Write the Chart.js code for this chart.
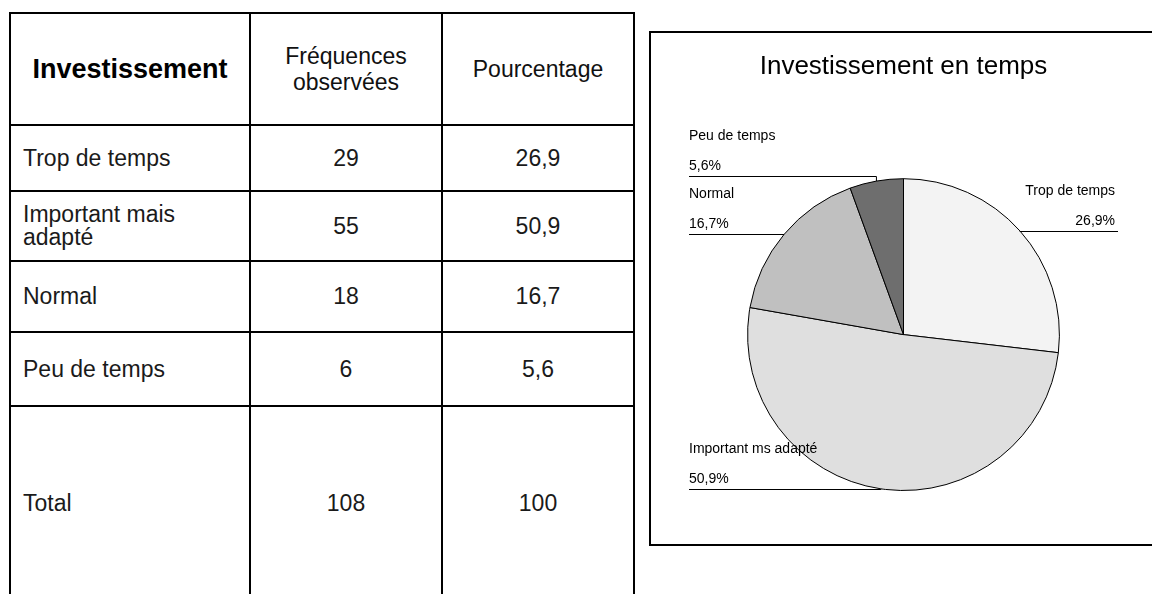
<!DOCTYPE html>
<html>
<head>
<meta charset="utf-8">
<script src="https://cdn.jsdelivr.net/npm/chart.js@4.4.1/dist/chart.umd.min.js"></script>
<style>
html,body{margin:0;padding:0;background:#fff;width:1152px;height:594px;overflow:hidden;}
body{position:relative;font-family:"Liberation Sans",Arial,sans-serif;color:#1a1a1a;}
#tbl{position:absolute;left:9px;top:12px;border-collapse:collapse;table-layout:fixed;}
#tbl td,#tbl th{border:2px solid #000;padding:0 12px;font-size:23px;line-height:23px;font-weight:normal;vertical-align:middle;box-sizing:border-box;}
#tbl th{text-align:center;line-height:26px;color:#111;}
#tbl th.main{font-weight:bold;font-size:27px;color:#000;}
#tbl td.num{text-align:center;}
#tbl td.cat{text-align:left;}
#box{position:absolute;left:649px;top:31px;width:540px;height:515px;border:2px solid #000;box-sizing:border-box;}
#pie{position:absolute;left:651px;top:33px;}
</style>
</head>
<body>
<table id="tbl">
  <colgroup><col style="width:240px"><col style="width:192px"><col style="width:192px"></colgroup>
  <tbody id="tbody"></tbody>
</table>
<div id="box"></div>
<canvas id="pie" width="500" height="511"></canvas>
<script>
// ---- data ----
const tableHeaders = ["Investissement", "Fréquences observées", "Pourcentage"];
const categories = ["Trop de temps", "Important mais adapté", "Normal", "Peu de temps"];
const frequencies = [29, 55, 18, 6];
const percentages = [26.9, 50.9, 16.7, 5.6];
const totalLabel = "Total";
const totalFrequency = 108;
const totalPercentage = 100;
const chartTitle = "Investissement en temps";
const chartLabels = ["Trop de temps", "Important ms adapté", "Normal", "Peu de temps"];

// ---- style / layout ----
const sliceColors = ["#f3f3f3", "#dfdfdf", "#c0c0c0", "#6e6e6e"];
const rowHeights = [112, 66, 70, 71, 74, 194];
const labelLift = [0, 0, 0, -5];

const fmt = v => String(v).replace('.', ',');

// ---- table ----
const tbody = document.getElementById('tbody');
function addRow(cells, isHeader, h) {
  const tr = document.createElement('tr');
  tr.style.height = h + 'px';
  cells.forEach((c, j) => {
    const el = document.createElement(isHeader ? 'th' : 'td');
    el.textContent = c;
    if (isHeader && j === 0) el.className = 'main';
    if (!isHeader) el.className = j === 0 ? 'cat' : 'num';
    tr.appendChild(el);
  });
  tbody.appendChild(tr);
}
addRow(tableHeaders, true, rowHeights[0]);
categories.forEach((c, i) => addRow([c, fmt(frequencies[i]), fmt(percentages[i])], false, rowHeights[i + 1]));
addRow([totalLabel, fmt(totalFrequency), fmt(totalPercentage)], false, rowHeights[5]);

// ---- chart ----
const FONT = '"Liberation Sans", Arial, sans-serif';
const labelPlugin = {
  id: 'sliceLabels',
  afterDatasetsDraw(chart) {
    const ctx = chart.ctx;
    const meta = chart.getDatasetMeta(0);
    const area = chart.chartArea;
    const leftX = area.left - 58, rightX = area.right + 58;
    ctx.save();
    ctx.font = '14px ' + FONT;
    ctx.fillStyle = '#000';
    ctx.strokeStyle = '#000';
    ctx.lineWidth = 1;
    ctx.textBaseline = 'alphabetic';
    meta.data.forEach((arc, i) => {
      const p = arc.getProps(['x', 'y', 'startAngle', 'endAngle', 'outerRadius'], true);
      const mid = (p.startAngle + p.endAngle) / 2;
      const ex = p.x + p.outerRadius * Math.cos(mid);
      const ey = p.y + p.outerRadius * Math.sin(mid);
      const right = Math.cos(mid) >= 0;
      const ly = Math.round(ey + labelLift[i]) + 0.5;
      ctx.beginPath();
      ctx.moveTo(ex, ey);
      ctx.lineTo(ex, ly);
      ctx.lineTo(right ? rightX : leftX, ly);
      ctx.stroke();
      ctx.textAlign = right ? 'right' : 'left';
      const tx = right ? rightX - 3 : leftX;
      ctx.fillText(chartLabels[i], tx, ly - 37);
      ctx.fillText(fmt(percentages[i]) + '%', tx, ly - 7);
    });
    ctx.restore();
  }
};

new Chart(document.getElementById('pie'), {
  type: 'pie',
  data: {
    labels: chartLabels,
    datasets: [{
      data: frequencies,
      backgroundColor: sliceColors,
      borderColor: '#000',
      borderWidth: 1,
      hoverOffset: 0
    }]
  },
  options: {
    responsive: false,
    animation: false,
    events: [],
    layout: { padding: { left: 96, right: 91, top: 0, bottom: 53 } },
    plugins: {
      legend: { display: false },
      tooltip: { enabled: false },
      title: {
        display: true,
        text: chartTitle,
        color: '#000',
        font: { family: FONT, size: 26, weight: 'normal', lineHeight: 1.2 },
        padding: { top: 18, bottom: 96 }
      }
    }
  },
  plugins: [labelPlugin]
});
</script>
</body>
</html>
